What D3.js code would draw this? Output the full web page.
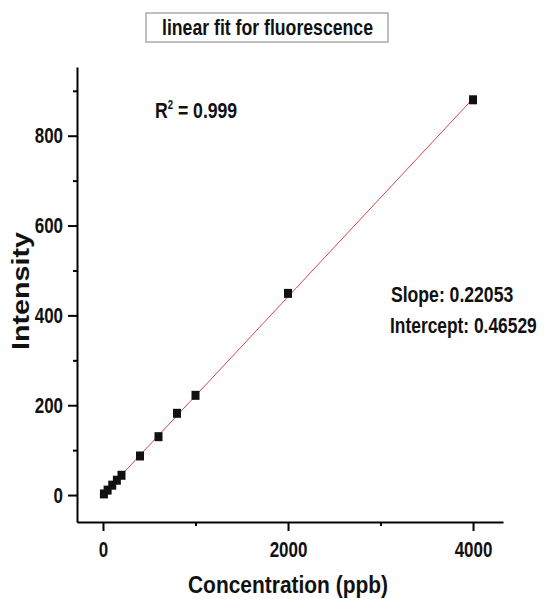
<!DOCTYPE html>
<html>
<head>
<meta charset="utf-8">
<script src="https://cdn.jsdelivr.net/npm/d3@7"></script>
<style>
  body { margin: 0; background: #fff; }
  text { font-family: "Liberation Sans", Arial, sans-serif; font-weight: bold; fill: #111; }
</style>
</head>
<body>
<script>
// measured points (ppb vs intensity)
var conc = [10, 50, 100, 150, 200, 400, 600, 800, 1000, 2000, 4000];
var intensity = [2.5, 11, 22, 33, 44, 87, 130, 182, 222, 449, 880];
var slope = 0.22053, intercept = 0.46529;
var xTicks = [0, 2000, 4000], xMinor = [1000, 3000];
var yTicks = [0, 200, 400, 600, 800], yMinor = [100, 300, 500, 700, 900];

var width = 544, height = 599;
var narrow = 0.77; // fake arial narrow

var svg = d3.select("body").append("svg")
    .attr("width", width)
    .attr("height", height);

var x = d3.scaleLinear().domain([-281, 4324]).range([77, 503]);
var y = d3.scaleLinear().domain([-60, 953]).range([522, 67]);

// text squeezed to a given width
function fitText(tx, ty, size, len, anchor, str) {
  return svg.append("text")
      .attr("x", tx).attr("y", ty)
      .attr("text-anchor", anchor)
      .attr("textLength", len)
      .attr("lengthAdjust", "spacingAndGlyphs")
      .style("font-size", size + "px")
      .text(str);
}
// text squeezed by a scale factor
function narrowText(tx, ty, size, sx, str) {
  return svg.append("g")
      .attr("transform", "translate(" + tx + "," + ty + ") scale(" + sx + ",1)")
    .append("text")
      .style("font-size", size + "px")
      .text(str);
}

// title box
svg.append("rect")
    .attr("x", 146).attr("y", 13)
    .attr("width", 242).attr("height", 29)
    .attr("fill", "#fff")
    .attr("stroke", "#aaa").attr("stroke-width", 1.5);
fitText(267.5, 35, 22, 211, "middle", "linear fit for fluorescence");

// axes
svg.append("g")
    .attr("class", "xaxis")
    .attr("transform", "translate(0," + y.range()[0] + ")")
    .call(d3.axisBottom(x).tickValues(xTicks).tickFormat(d3.format("d")).tickSize(9).tickSizeOuter(0).tickPadding(10));
svg.append("g")
    .attr("transform", "translate(0," + y.range()[0] + ")")
    .call(d3.axisBottom(x).tickValues(xMinor).tickSize(4).tickFormat(""))
    .select(".domain").remove();

svg.append("g")
    .attr("class", "yaxis")
    .attr("transform", "translate(" + x.range()[0] + ",0)")
    .call(d3.axisLeft(y).tickValues(yTicks).tickFormat(d3.format("d")).tickSize(9).tickSizeOuter(0).tickPadding(5));
svg.append("g")
    .attr("transform", "translate(" + x.range()[0] + ",0)")
    .call(d3.axisLeft(y).tickValues(yMinor).tickSize(4).tickFormat(""))
    .select(".domain").remove();

svg.selectAll(".domain, .tick line").attr("stroke", "#000").attr("stroke-width", 2);
svg.selectAll(".tick text")
    .style("font-size", "22px")
    .style("font-family", "'Liberation Sans', Arial, sans-serif")
    .style("font-weight", "bold")
    .attr("fill", "#111");
svg.selectAll(".xaxis .tick text")
    .attr("transform", "scale(" + narrow + ",1)");
svg.selectAll(".yaxis .tick text")
    .attr("x", -14 / narrow)
    .attr("transform", "scale(" + narrow + ",1)");

// axis titles
fitText(288, 593, 23, 200, "middle", "Concentration (ppb)");
svg.append("text")
    .attr("transform", "translate(29,291) rotate(-90)")
    .attr("text-anchor", "middle")
    .attr("textLength", 118)
    .attr("lengthAdjust", "spacingAndGlyphs")
    .style("font-size", "23px")
    .text("Intensity");

// fit line
var xExt = d3.extent(conc);
svg.append("line")
    .attr("x1", x(xExt[0])).attr("y1", y(slope * xExt[0] + intercept))
    .attr("x2", x(xExt[1])).attr("y2", y(slope * xExt[1] + intercept))
    .attr("stroke", "#d04848").attr("stroke-width", 1);

// points
svg.selectAll(".pt")
    .data(conc)
    .enter().append("rect")
    .attr("class", "pt")
    .attr("x", function(d) { return x(d) - 4; })
    .attr("y", function(d, i) { return y(intensity[i]) - 4.5; })
    .attr("width", 8).attr("height", 9)
    .attr("fill", "#111");

// annotations
var r2 = narrowText(155, 118, 22, 0.8, "");
r2.append("tspan").text("R");
r2.append("tspan").attr("dy", -9).style("font-size", "12px").text("2");
r2.append("tspan").attr("dy", 9).text(" = 0.999");

narrowText(391, 302, 22, 0.8, "Slope: " + slope);
narrowText(390, 333, 22, 0.79, "Intercept: " + intercept);
</script>
</body>
</html>
